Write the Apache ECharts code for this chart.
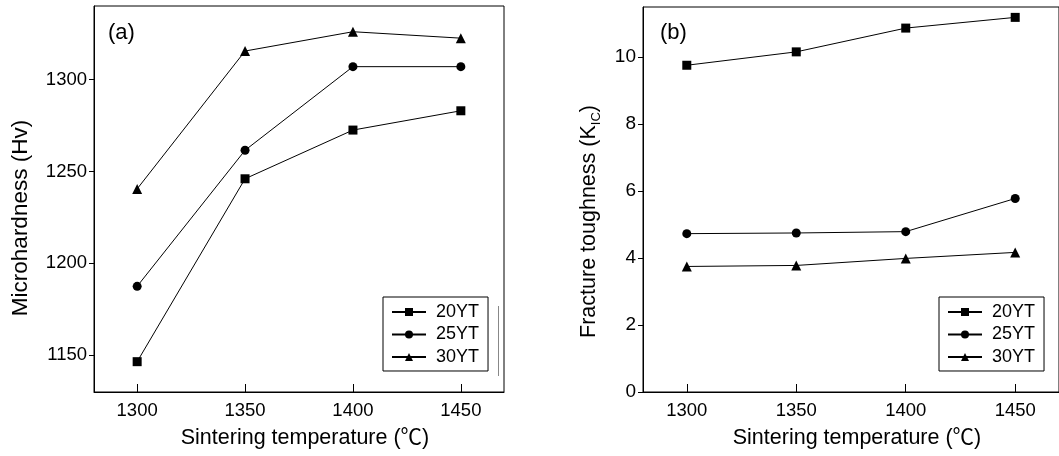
<!DOCTYPE html>
<html>
<head>
<meta charset="utf-8">
<script src="https://cdn.jsdelivr.net/npm/echarts@6/dist/echarts.min.js"></script>
<style>
html,body{margin:0;padding:0;background:#fff;}
#chart{width:1059px;height:456px;}
</style>
</head>
<body>
<div id="chart"></div>
<script>
// ---- data ----
const temperatures = [1300, 1350, 1400, 1450];
const seriesNames = ['20YT', '25YT', '30YT'];
const hardness20YT = [1146.5, 1246, 1272.5, 1283];
const hardness25YT = [1187.5, 1261.5, 1307, 1307];
const hardness30YT = [1240.5, 1315.5, 1326, 1322.5];
const tough20YT = [9.76, 10.16, 10.87, 11.19];
const tough25YT = [4.73, 4.75, 4.79, 5.78];
const tough30YT = [3.75, 3.78, 3.99, 4.17];
const xTicks = [1300, 1350, 1400, 1450];
const hardTicks = [1150, 1200, 1250, 1300];
const toughTicks = [0, 2, 4, 6, 8, 10];

const FONT = "'Liberation Sans', Arial, 'Noto Sans CJK SC', sans-serif";
const symbols = ['rect', 'circle', 'triangle'];
const symbolSizes = [9, 9, 10];
const plain = v => String(v);

function pairs(vals) { return temperatures.map((t, i) => [t, vals[i]]); }

function xAxisCfg(gridIndex) {
  return {
    type: 'value', gridIndex: gridIndex, min: 1280, max: 1470,
    name: 'Sintering temperature (℃)', nameLocation: 'middle', nameGap: 35,
    nameTextStyle: { fontFamily: FONT, fontSize: 21.5, color: '#000', padding: [0, 0, 0, 12] },
    axisLine: { show: true, lineStyle: { color: '#000', width: 1 } },
    axisTick: { show: true, inside: true, length: 8, customValues: xTicks, lineStyle: { color: '#000' } },
    axisLabel: { customValues: xTicks, formatter: plain, fontFamily: FONT, fontSize: 18.5, color: '#000', margin: 10 },
    splitLine: { show: false }
  };
}

function lineSeries(name, vals, idx, xi, yi) {
  return {
    name: name, type: 'line', xAxisIndex: xi, yAxisIndex: yi,
    data: pairs(vals),
    symbol: symbols[idx], symbolSize: symbolSizes[idx],
    lineStyle: { color: '#000', width: 1 },
    itemStyle: { color: '#000' },
    animation: false
  };
}

function legendCfg(left) {
  return {
    orient: 'vertical', left: left, top: 297,
    data: seriesNames,
    itemWidth: 34, itemHeight: 10, itemGap: 4.5,
    padding: [6, 9, 5, 8],
    borderColor: '#000', borderWidth: 1,
    textStyle: { fontFamily: FONT, fontSize: 18, color: '#000', padding: [0, 0, 0, 5] },
    selectedMode: false
  };
}

const chart = echarts.init(document.getElementById('chart'), null, { renderer: 'canvas' });
chart.setOption({
  backgroundColor: '#fff',
  animation: false,
  grid: [
    { left: 94, top: 6, width: 410, height: 386, show: true, borderColor: '#000', borderWidth: 1 },
    { left: 643, top: 7, width: 418, height: 385, show: true, borderColor: '#000', borderWidth: 1 }
  ],
  xAxis: [xAxisCfg(0), xAxisCfg(1)],
  yAxis: [
    {
      type: 'value', gridIndex: 0, min: 1130, max: 1340,
      name: 'Microhardness (Hv)', nameLocation: 'middle', nameGap: 62,
      nameTextStyle: { fontFamily: FONT, fontSize: 22.5, color: '#000', padding: [0, 38, 0, 0] },
      axisLine: { show: true, lineStyle: { color: '#000', width: 1 } },
      axisTick: { show: true, inside: false, length: 5, customValues: hardTicks, lineStyle: { color: '#000' } },
      axisLabel: { customValues: hardTicks, formatter: plain, fontFamily: FONT, fontSize: 18.5, color: '#000', margin: 7 },
      splitLine: { show: false }
    },
    {
      type: 'value', gridIndex: 1, min: 0, max: 11.5,
      name: '{n|Fracture toughness (K}{s|IC}{n|)}', nameLocation: 'middle', nameGap: 43,
      nameTextStyle: {
        fontFamily: FONT, fontSize: 21.5, color: '#000', padding: [0, 44, 0, 0],
        rich: {
          n: { fontFamily: FONT, fontSize: 21.5, color: '#000' },
          s: { fontFamily: FONT, fontSize: 13, color: '#000', verticalAlign: 'bottom', padding: [0, 0, -3, 0] }
        }
      },
      axisLine: { show: true, lineStyle: { color: '#000', width: 1 } },
      axisTick: { show: true, inside: false, length: 5, customValues: toughTicks, lineStyle: { color: '#000' } },
      axisLabel: { customValues: toughTicks, formatter: plain, fontFamily: FONT, fontSize: 19, color: '#000', margin: 7 },
      splitLine: { show: false }
    }
  ],
  legend: [legendCfg(383), legendCfg(939)],
  series: [
    lineSeries('20YT', hardness20YT, 0, 0, 0),
    lineSeries('25YT', hardness25YT, 1, 0, 0),
    lineSeries('30YT', hardness30YT, 2, 0, 0),
    lineSeries('20YT', tough20YT, 0, 1, 1),
    lineSeries('25YT', tough25YT, 1, 1, 1),
    lineSeries('30YT', tough30YT, 2, 1, 1)
  ],
  graphic: [
    { type: 'text', left: 108, top: 22, style: { text: '(a)', font: '22px ' + FONT, fill: '#000' } },
    { type: 'text', left: 660, top: 22, style: { text: '(b)', font: '22px ' + FONT, fill: '#000' } },
    { type: 'line', shape: { x1: 498.5, y1: 306, x2: 498.5, y2: 376 }, style: { stroke: '#888', lineWidth: 1 } }
  ]
});
</script>
</body>
</html>
